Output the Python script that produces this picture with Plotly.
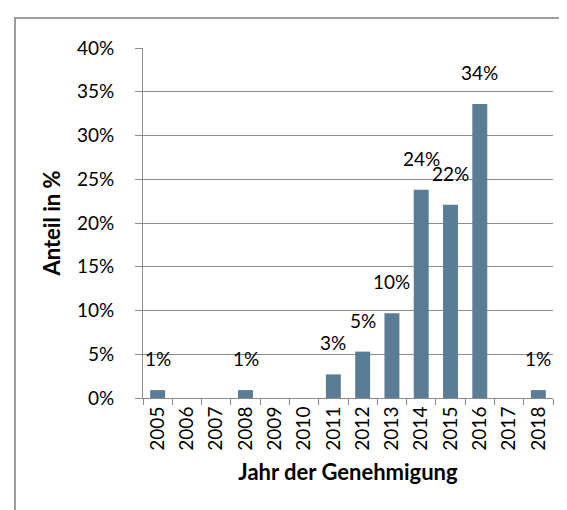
import plotly.graph_objects as go

years = ["2005", "2006", "2007", "2008", "2009", "2010", "2011", "2012",
         "2013", "2014", "2015", "2016", "2017", "2018"]
shares = [0.9, 0.0, 0.0, 0.9, 0.0, 0.0, 2.7, 5.3, 9.7, 23.8, 22.1, 33.6, 0.0, 0.9]
y_ticks = [0, 5, 10, 15, 20, 25, 30, 35, 40]
y_tick_labels = [f"{v}%" for v in y_ticks]
x_title = "Jahr der Genehmigung"
y_title = "Anteil in %"

FONT = "Lato"
BAR = "#5b7c95"
GRID = "#8c8c8c"

fig = go.Figure()
fig.add_trace(go.Bar(
    x=years, y=shares, marker=dict(color=BAR, line=dict(width=0)),
    hoverinfo="skip", showlegend=False,
))

for i, v in enumerate(shares):
    if v > 0:
        fig.add_annotation(
            x=i, y=v, text=f"{round(v):d}%", showarrow=False,
            yanchor="bottom", yshift=18,
            font=dict(family=FONT, size=19, color="#000000"),
        )

fig.update_layout(
    width=567, height=510,
    margin=dict(l=135, r=22, t=40, b=120),
    paper_bgcolor="white", plot_bgcolor="white",
    bargap=0.49,
    font=dict(family=FONT, size=19, color="#000000"),
    shapes=[dict(type="rect", xref="paper", yref="paper",
                 x0=(7 - 135) / 410, x1=1.2, y0=-0.5, y1=(390 - 10) / 350,
                 line=dict(color="#7f7f7f", width=1.5), fillcolor="rgba(0,0,0,0)",
                 layer="below")],
)

fig.update_xaxes(
    type="category", categoryorder="array", categoryarray=years,
    range=[-0.5, len(years) - 0.5],
    showline=True, linecolor=GRID, linewidth=1,
    ticks="outside", tickson="boundaries", ticklen=6, tickcolor=GRID,
    tickangle=-90, showgrid=False,
    tickfont=dict(family=FONT, size=19),
    title=dict(text=x_title, font=dict(family=FONT, size=22, weight="bold"),
               standoff=14),
)
fig.update_yaxes(
    range=[0, 40], tickmode="array", tickvals=y_ticks, ticktext=y_tick_labels,
    showline=True, linecolor=GRID, linewidth=1,
    ticks="outside", ticklen=7, tickcolor=GRID,
    showgrid=True, gridcolor=GRID, gridwidth=1, zeroline=False,
    ticklabelstandoff=17,
    tickfont=dict(family=FONT, size=19),
    title=dict(text=y_title, font=dict(family=FONT, size=22, weight="bold"),
               standoff=10),
)

fig.write_html("out.html")
